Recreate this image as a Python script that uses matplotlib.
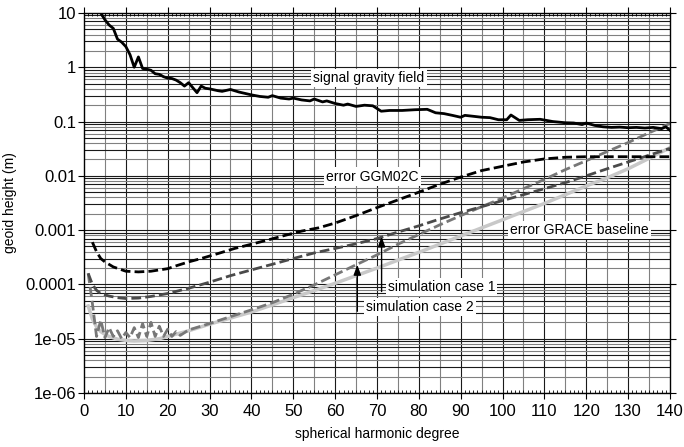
import numpy as np
import matplotlib
matplotlib.use("Agg")
import matplotlib.pyplot as plt
from matplotlib.ticker import FixedLocator, FixedFormatter, MultipleLocator, NullLocator

plt.rcParams["font.family"] = ["Liberation Sans", "DejaVu Sans"]

# signal gravity field (black solid)
signal_deg = [4, 5, 6, 7, 8, 9, 10, 11, 12, 13, 14, 15, 16, 17, 18, 19, 20, 21, 22, 23,
              24, 25, 26, 27, 28, 29, 30, 32, 33, 35, 37, 40, 42, 44, 45, 47, 49, 50, 52,
              54, 55, 57, 58, 60, 62, 63, 65, 67, 69, 71, 73, 76, 79, 82, 84, 86, 88, 90,
              91, 93, 95, 97, 99, 101, 102, 104, 106, 109, 112, 115, 117, 119, 120, 122,
              124, 126, 128, 130, 132, 134, 136, 138, 139, 140]
signal_val = [10, 7.5, 6.0, 5.2, 3.3, 2.9, 2.4, 1.7, 1.0, 1.55, 0.95, 0.92, 0.88, 0.76,
              0.74, 0.67, 0.63, 0.62, 0.58, 0.52, 0.45, 0.52, 0.42, 0.34, 0.45, 0.41, 0.40,
              0.37, 0.36, 0.39, 0.35, 0.31, 0.29, 0.28, 0.30, 0.27, 0.26, 0.27, 0.25, 0.24,
              0.26, 0.23, 0.24, 0.215, 0.20, 0.21, 0.19, 0.20, 0.195, 0.155, 0.16, 0.16,
              0.165, 0.168, 0.145, 0.14, 0.13, 0.12, 0.13, 0.125, 0.12, 0.118, 0.108,
              0.108, 0.132, 0.105, 0.108, 0.11, 0.10, 0.095, 0.094, 0.088, 0.094, 0.085,
              0.08, 0.078, 0.079, 0.077, 0.078, 0.076, 0.078, 0.074, 0.08, 0.069]

# error GGM02C (black dashed)
ggm_deg = [2, 3, 4, 5, 7, 10, 13, 16, 18, 20, 22, 25, 28, 32, 36, 40, 44, 48, 52, 56, 60,
           65, 70, 75, 80, 85, 90, 95, 100, 105, 110, 115, 120, 130, 140]
ggm_val = [6e-4, 4e-4, 3.0e-4, 2.6e-4, 2.1e-4, 1.75e-4, 1.7e-4, 1.75e-4, 1.85e-4, 1.95e-4,
           2.2e-4, 2.6e-4, 3.0e-4, 3.7e-4, 4.6e-4, 5.5e-4, 6.6e-4, 8e-4, 9.6e-4, 1.1e-3,
           1.35e-3, 1.85e-3, 2.6e-3, 3.6e-3, 5e-3, 7e-3, 9.5e-3, 0.0125, 0.015, 0.018,
           0.0205, 0.022, 0.0225, 0.0225, 0.0225]

# error GRACE baseline (light grey solid)
grace_deg = [1, 2, 3, 4, 5, 6, 8, 10, 12, 15, 18, 20, 25, 30, 35, 40, 45, 50, 55, 60, 65,
             70, 75, 80, 85, 90, 95, 100, 105, 110, 115, 120, 125, 130, 135, 140]
grace_val = [4e-5, 2.3e-5, 1.65e-5, 1.35e-5, 1.2e-5, 1.1e-5, 9.8e-6, 9.3e-6, 9.1e-6, 9.3e-6,
             1.0e-5, 1.1e-5, 1.4e-5, 1.85e-5, 2.4e-5, 3.1e-5, 4.2e-5, 5.7e-5, 7.7e-5,
             1.05e-4, 1.45e-4, 2.0e-4, 2.8e-4, 3.9e-4, 5.5e-4, 7.8e-4, 1.1e-3, 1.55e-3,
             2.2e-3, 3.1e-3, 4.5e-3, 6.5e-3, 9.2e-3, 1.35e-2, 2.1e-2, 3.3e-2]

# simulation case 1 (dark grey dashed)
case1_deg = [1, 2, 3, 4, 6, 8, 10, 13, 16, 20, 25, 30, 35, 40, 45, 50, 55, 60, 65, 70, 75,
             80, 85, 90, 95, 100, 105, 110, 115, 120, 125, 130, 135, 140]
case1_val = [1.6e-4, 1.0e-4, 7.8e-5, 6.8e-5, 6.1e-5, 5.7e-5, 5.5e-5, 5.6e-5, 6.0e-5, 6.8e-5,
             8.5e-5, 1.1e-4, 1.45e-4, 1.85e-4, 2.35e-4, 3.0e-4, 3.8e-4, 4.6e-4, 5.6e-4,
             7.0e-4, 9.2e-4, 1.2e-3, 1.6e-3, 2.1e-3, 2.7e-3, 3.5e-3, 4.5e-3, 5.8e-3,
             7.5e-3, 1.0e-2, 1.35e-2, 1.8e-2, 2.4e-2, 3.2e-2]

# simulation case 2 (medium grey dashed, noisy at low degrees)
case2_deg = [1, 2, 3, 4, 5, 6, 7, 8, 9, 10, 11, 12, 13, 14, 15, 16, 17, 18, 19, 20, 21, 22,
             23, 25, 30, 35, 40, 45, 50, 55, 60, 65, 70, 75, 80, 85, 90, 95, 100, 105, 110,
             115, 120, 125, 130, 135, 140]
case2_val = [1.6e-4, 4.5e-5, 1.1e-5, 2.2e-5, 1.05e-5, 1.6e-5, 1.1e-5, 1.4e-5, 1.0e-5, 1.3e-5,
             1.05e-5, 1.6e-5, 1.05e-5, 1.9e-5, 1.1e-5, 2.0e-5, 1.1e-5, 1.7e-5, 1.1e-5,
             1.5e-5, 1.1e-5, 1.35e-5, 1.15e-5, 1.45e-5, 1.9e-5, 2.55e-5, 3.4e-5, 4.6e-5,
             6.6e-5, 9.8e-5, 1.5e-4, 2.3e-4, 3.5e-4, 5.5e-4, 8.3e-4, 1.25e-3, 1.85e-3,
             2.7e-3, 3.9e-3, 5.8e-3, 8.6e-3, 1.3e-2, 1.9e-2, 2.8e-2, 4.1e-2, 6.2e-2, 9.2e-2]

y_ticks = [1e-6, 1e-5, 1e-4, 1e-3, 1e-2, 1e-1, 1, 10]
y_tick_labels = ["1e-06", "1e-05", "0.0001", "0.001", "0.01", "0.1", "1", "10"]

fig = plt.figure(figsize=(6.84, 4.47), dpi=100)
ax = fig.add_axes([0.1228, 0.1208, 0.8567, 0.8502])
ax.set_yscale("log")
ax.set_xlim(0, 140)
ax.set_ylim(1e-6, 10)

# grid
for x in range(5, 140, 5):
    ax.axvline(x, color="0.1" if x % 10 == 0 else "0.5", lw=0.8, zorder=1)
for dec in y_ticks[:-1]:
    for m in range(1, 10):
        col = "0.1" if m in (1, 3, 5, 7, 9) else "0.5"
        ax.axhline(dec * m, color=col, lw=0.8, zorder=1)

ax.plot(grace_deg, grace_val, color="#c8c8c8", lw=2.5, zorder=3)
ax.plot(case2_deg, case2_val, color="#777777", lw=2, dashes=(3.5, 1.5), zorder=4)
ax.plot(case1_deg, case1_val, color="#4a4a4a", lw=2, dashes=(3.5, 1.5), zorder=4)
ax.plot(ggm_deg, ggm_val, color="black", lw=2, dashes=(3.5, 1.5), zorder=5)
ax.plot(signal_deg, signal_val, color="black", lw=2, zorder=5)

box = dict(facecolor="white", edgecolor="none", pad=1.5)
ax.text(68.1, 0.635, "signal gravity field", ha="center", va="center", fontsize=10, bbox=box, zorder=6)
ax.text(68.9, 0.0097, "error GGM02C", ha="center", va="center", fontsize=10, bbox=box, zorder=6)
ax.text(118.3, 1.0e-3, "error GRACE baseline", ha="center", va="center", fontsize=10, bbox=box, zorder=6)
ax.text(85.4, 9.1e-5, "simulation case 1", ha="center", va="center", fontsize=10, bbox=box, zorder=6)
ax.text(80.2, 3.8e-5, "simulation case 2", ha="center", va="center", fontsize=10, bbox=box, zorder=6)

arrow = dict(arrowstyle="-|>,head_length=0.6,head_width=0.22", color="black", lw=1,
             shrinkA=0, shrinkB=0)
ax.annotate("", xy=(71.1, 7.6e-4), xytext=(71.1, 7.4e-5), arrowprops=arrow, zorder=7)
ax.annotate("", xy=(65.3, 2.3e-4), xytext=(65.3, 3.2e-5), arrowprops=arrow, zorder=7)

# ticks
ax.xaxis.set_major_locator(MultipleLocator(10))
ax.xaxis.set_minor_locator(MultipleLocator(1))
ax.tick_params(axis="x", which="major", direction="out", length=4, width=0.8,
               top=True, labelsize=12, pad=4)
ax.tick_params(axis="x", which="minor", direction="in", length=2.5, width=0.6, top=True)
ax.yaxis.set_major_locator(FixedLocator(y_ticks))
ax.yaxis.set_major_formatter(FixedFormatter(y_tick_labels))
ax.yaxis.set_minor_locator(NullLocator())
ax.tick_params(axis="y", which="major", direction="out", length=4.5, width=0.8,
               right=True, labelsize=12, pad=1)
for s in ax.spines.values():
    s.set_linewidth(1)
    s.set_zorder(8)

ax.set_xlabel("spherical harmonic degree", fontsize=10, labelpad=6)
ax.set_ylabel("geoid height (m)", fontsize=10, labelpad=6)

fig.savefig("out.png", dpi=100)
